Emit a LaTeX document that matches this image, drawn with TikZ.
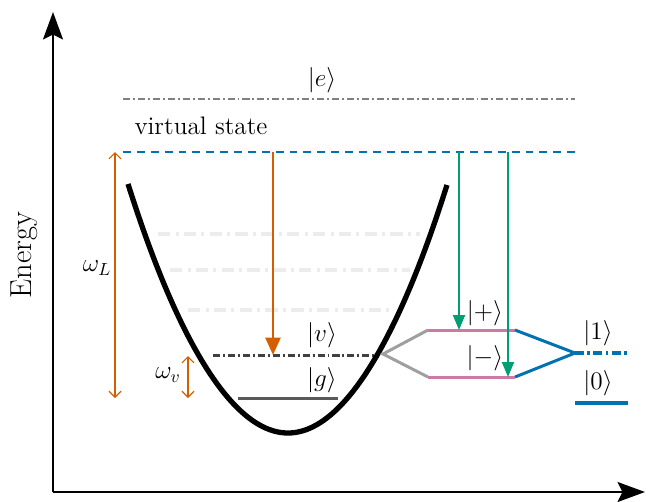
\documentclass[tikz,border=0pt]{standalone}
\usepackage{amsmath}
\usepackage{tikz}
\usetikzlibrary{arrows.meta, positioning, calc}
\definecolor{cborange}{HTML}{D55E00}
\definecolor{cbgreen}{HTML}{009E73}
\definecolor{cbblue}{HTML}{0072B2}
\definecolor{cbpink}{HTML}{CC79A7}

\begin{document}
\begin{tikzpicture}[
  x=0.02cm, y=-0.02cm, font=\Large,
  axis/.style={line width=1.2pt, -{Stealth[length=5.5mm, width=4mm, inset=1mm]}},
  lvl/.style={line width=1.7pt},
  dashdot/.style={lvl, dash pattern=on 4pt off 1.7pt on 1.1pt off 1.7pt},
  faint/.style={line width=1.8pt, gray!15, dash pattern=on 7pt off 3pt on 1.7pt off 3pt},
  gap/.style={line width=0.7pt, cborange, {Straight Barb[length=1.2mm]}-{Straight Barb[length=1.2mm]}},
  emit/.style={cborange, line width=1.6pt, -{Triangle[length=3.5mm, width=3mm]}},
  drive/.style={cbgreen, line width=1.1pt, -{Triangle[length=3mm, width=2.4mm]}}]
  \useasboundingbox (0,0) rectangle (649,501);
  % axes
  \coordinate (orig) at (53,492);
  \coordinate (ytop) at (53,12);
  \coordinate (xend) at (645,492);
  \draw[axis] (orig) -- (ytop);
  \draw[axis] (orig) -- (xend);
  \node[rotate=90, font=\LARGE] (energy) at (24,255) {Energy};
  % levels
  \draw[dashdot, gray] (123,99) -- (575,99);
  \node (ket-e) at (322,80) {$|e\rangle$};
  \node (virt) at (201,126) {virtual state};
  \draw[lvl, cbblue, dash pattern=on 4.5pt off 3.4pt] (123,152) -- (575,152);
  \draw[faint] (158,234) -- (420,234);
  \draw[faint] (170,270) -- (410,270);
  \draw[faint] (188,310) -- (393,310);
  \draw[dashdot, black!75] (213,355) -- (378,355);
  \node (ket-v) at (322,335) {$|v\rangle$};
  \draw[lvl, black!65] (238,398) -- (338,398);
  \node (ket-g) at (322,380) {$|g\rangle$};
  % potential well
  \draw[line width=3pt] (128,184) parabola bend (288,433) (447,185);
  % level splitting
  \coordinate (split) at (383,354);
  \coordinate (p1) at (428,330);
  \coordinate (p2) at (515,330);
  \coordinate (m1) at (428,377);
  \coordinate (m2) at (515,377);
  \coordinate (q1) at (575,353);
  \coordinate (q2) at (628,353);
  \draw[lvl, gray!75] (p1) -- (split) -- (m1);
  \draw[lvl, cbpink] (p1) -- (p2);
  \draw[lvl, cbpink] (m1) -- (m2);
  \draw[lvl, cbblue] (p2) -- (q1) -- (m2);
  \draw[lvl, cbblue, line width=2pt, dash pattern=on 5pt off 2pt on 1.5pt off 2pt] (q1) -- (q2);
  \draw[lvl, cbblue, line width=2pt] (575,403) -- (628,403);
  \node (ket-p) at (485,313) {$|{+}\rangle$};
  \node (ket-m) at (485,358) {$|{-}\rangle$};
  \node (ket-1) at (598,333) {$|1\rangle$};
  \node (ket-0) at (598,383) {$|0\rangle$};
  % transitions
  \coordinate (wL1) at (115,152);
  \coordinate (wL2) at (115,398);
  \draw[gap] (wL1) -- (wL2);
  \node (wL) at (97,268) {$\omega_L$};
  \coordinate (wv1) at (188,356);
  \coordinate (wv2) at (188,398);
  \draw[gap] (wv1) -- (wv2);
  \node (wv) at (168,375) {$\omega_v$};
  \coordinate (s1) at (273,152);
  \coordinate (s2) at (273,355);
  \draw[emit] (s1) -- (s2);
  \coordinate (r1) at (459,152);
  \coordinate (r2) at (459,330);
  \draw[drive] (r1) -- (r2);
  \coordinate (t1) at (508,152);
  \coordinate (t2) at (508,377);
  \draw[drive] (t1) -- (t2);
\end{tikzpicture}
\end{document}
